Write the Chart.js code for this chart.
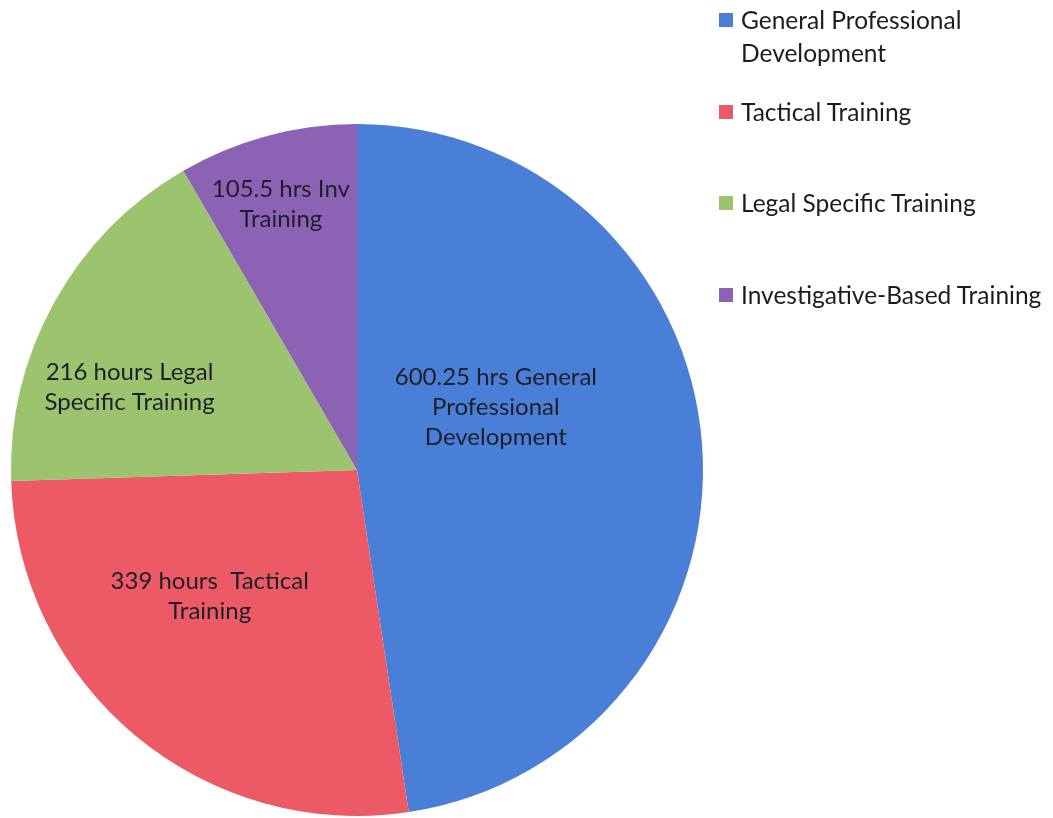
<!DOCTYPE html>
<html>
<head>
<meta charset="utf-8">
<script src="https://cdn.jsdelivr.net/npm/chart.js@4/dist/chart.umd.min.js"></script>
<style>
  html, body { margin: 0; padding: 0; background: #ffffff; }
  #wrap { position: relative; width: 1053px; height: 818px; }
  #c { position: absolute; left: 0; top: 0; }
  #legend { position: absolute; left: 719px; top: 3px; width: 334px; font-family: Lato, "Open Sans", sans-serif; font-size: 24.5px; color: #1c1c1c; }
  .item { position: absolute; left: 0; display: flex; align-items: flex-start; }
  .sw { width: 14px; height: 14px; margin-top: 10px; margin-right: 8px; flex: none; }
  .tx { line-height: 33px; width: 310px; white-space: normal; }
</style>
</head>
<body>
<div id="wrap">
  <canvas id="c" width="1053" height="818"></canvas>
  <div id="legend"></div>
</div>
<script>
const categories = ["General Professional Development", "Tactical Training", "Legal Specific Training", "Investigative-Based Training"];
const hours = [600.25, 339, 216, 105.5];
const sliceLabels = [
  ["600.25 hrs General", "Professional", "Development"],
  ["339 hours  Tactical", "Training"],
  ["216 hours Legal", "Specific Training"],
  ["105.5 hrs Inv", "Training"]
];
const colors = ["#4a7fd7", "#ec5b65", "#9cc46f", "#8b62b4"];

// label placement relative to each arc: fraction along the arc's angle span, fraction of radius
const labelPlacement = [
  { af: 0.384, rf: 0.44 },
  { af: 0.60, rf: 0.56 },
  { af: 0.355, rf: 0.70 },
  { af: 0.47, rf: 0.80 }
];

const sliceLabelPlugin = {
  id: 'sliceLabels',
  afterDatasetsDraw(chart) {
    const ctx = chart.ctx;
    const meta = chart.getDatasetMeta(0);
    ctx.save();
    ctx.font = '24px Lato, "Open Sans", sans-serif';
    ctx.fillStyle = '#1e1e2a';
    ctx.textAlign = 'center';
    ctx.textBaseline = 'middle';
    meta.data.forEach((arc, i) => {
      const p = arc.getProps(['x', 'y', 'startAngle', 'endAngle', 'outerRadius'], true);
      const pl = labelPlacement[i];
      const a = p.startAngle + pl.af * (p.endAngle - p.startAngle);
      const r = p.outerRadius * pl.rf;
      const cx = p.x + Math.cos(a) * r;
      const cy = p.y + Math.sin(a) * r;
      const lines = sliceLabels[i];
      const lh = 30;
      lines.forEach((ln, k) => {
        ctx.fillText(ln, cx, cy + (k - (lines.length - 1) / 2) * lh);
      });
    });
    ctx.restore();
  }
};

new Chart(document.getElementById('c'), {
  type: 'pie',
  data: {
    labels: categories,
    datasets: [{
      data: hours,
      backgroundColor: colors,
      borderWidth: 0
    }]
  },
  options: {
    responsive: false,
    animation: false,
    layout: { padding: { left: 11, top: 124, right: 350, bottom: 2 } },
    plugins: {
      legend: { display: false },
      tooltip: { enabled: false }
    }
  },
  plugins: [sliceLabelPlugin]
});

// HTML legend built from the data arrays
const legend = document.getElementById('legend');
const tops = [0, 92, 183, 275];
categories.forEach((cat, i) => {
  const it = document.createElement('div');
  it.className = 'item';
  it.style.top = tops[i] + 'px';
  const sw = document.createElement('div');
  sw.className = 'sw';
  sw.style.background = colors[i];
  const tx = document.createElement('div');
  tx.className = 'tx';
  tx.textContent = cat;
  it.appendChild(sw);
  it.appendChild(tx);
  legend.appendChild(it);
});
</script>
</body>
</html>
